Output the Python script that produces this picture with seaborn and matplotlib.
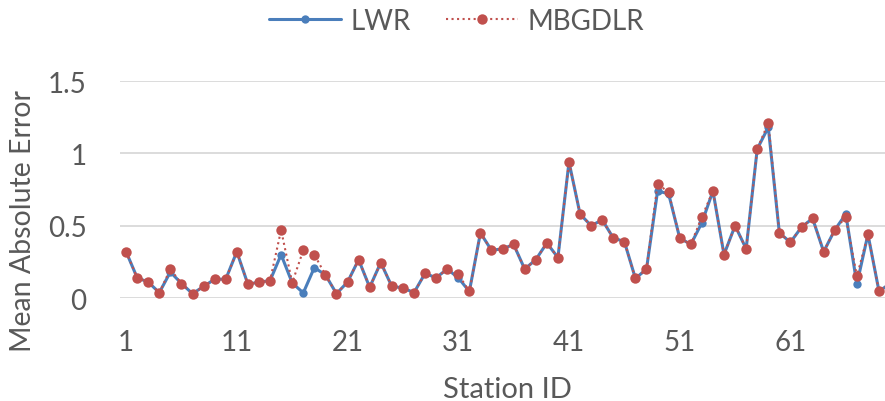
import numpy as np
import pandas as pd
import matplotlib
matplotlib.use("Agg")
import matplotlib.pyplot as plt
import seaborn as sns

# values
station = list(range(1, 71))
lwr = [0.32, 0.14, 0.11, 0.037, 0.18, 0.10, 0.03, 0.08, 0.13, 0.13,
       0.32, 0.095, 0.11, 0.12, 0.30, 0.105, 0.035, 0.21, 0.16, 0.03,
       0.11, 0.265, 0.074, 0.245, 0.08, 0.07, 0.037, 0.17, 0.14, 0.20,
       0.14, 0.045, 0.45, 0.33, 0.34, 0.37, 0.20, 0.265, 0.38, 0.28,
       0.94, 0.58, 0.50, 0.54, 0.415, 0.39, 0.135, 0.20, 0.74, 0.72,
       0.415, 0.37, 0.52, 0.74, 0.30, 0.50, 0.34, 1.03, 1.18, 0.45,
       0.385, 0.49, 0.55, 0.32, 0.47, 0.58, 0.095, 0.44, 0.046, 0.10]
mbgdlr = [0.32, 0.14, 0.11, 0.037, 0.20, 0.10, 0.03, 0.08, 0.13, 0.13,
          0.32, 0.095, 0.11, 0.12, 0.47, 0.105, 0.33, 0.30, 0.16, 0.03,
          0.11, 0.265, 0.074, 0.245, 0.08, 0.07, 0.037, 0.17, 0.14, 0.20,
          0.165, 0.045, 0.45, 0.33, 0.34, 0.37, 0.20, 0.265, 0.38, 0.28,
          0.94, 0.58, 0.50, 0.54, 0.415, 0.39, 0.135, 0.20, 0.79, 0.73,
          0.415, 0.37, 0.56, 0.74, 0.30, 0.50, 0.34, 1.03, 1.21, 0.45,
          0.385, 0.49, 0.55, 0.32, 0.47, 0.56, 0.15, 0.44, 0.046, 0.10]
xticks = [1, 11, 21, 31, 41, 51, 61]
yticks = [0, 0.5, 1, 1.5]
ytick_labels = ["0", "0.5", "1", "1.5"]

df = pd.DataFrame({"Station ID": station, "LWR": lwr, "MBGDLR": mbgdlr})

sns.set_style("white")
plt.rcParams['font.family'] = ['Lato', 'DejaVu Sans']
txt = "#595959"

fig = plt.figure(figsize=(8.85, 4.02), dpi=100)
ax = fig.add_axes([0.1356, 0.2562, 0.8644, 0.5398])

sns.lineplot(data=df, x="Station ID", y="LWR", ax=ax, color="#4A7EBB",
             linewidth=2.2, marker="o", markersize=6, markeredgewidth=0,
             label="LWR", clip_on=False)
sns.lineplot(data=df, x="Station ID", y="MBGDLR", ax=ax, color="#C0504D",
             linewidth=1.5, linestyle=":", marker="o", markersize=7.5,
             markeredgewidth=0, label="MBGDLR", clip_on=False)

ax.set_xlim(0.45, 69.54)
ax.set_ylim(0, 1.5)
ax.set_xticks(xticks)
ax.set_yticks(yticks)
ax.set_yticklabels(ytick_labels)
ax.tick_params(axis="both", length=0, labelsize=20, colors=txt)
ax.tick_params(axis="x", pad=22)
ax.tick_params(axis="y", pad=24)
ax.grid(axis="y", color="#D9D9D9", linewidth=1.3)
ax.set_axisbelow(True)
for s in ax.spines.values():
    s.set_visible(False)

ax.set_xlabel("Station ID", fontsize=21, color=txt)
ax.set_ylabel("Mean Absolute Error", fontsize=20.5, color=txt)
ax.xaxis.set_label_coords(0.506, -0.42)
ax.xaxis.label.set_va("center")
ax.yaxis.set_label_coords(-0.127, 0.36)
ax.yaxis.label.set_va("center")

handles, labels = ax.get_legend_handles_labels()
ax.get_legend().remove()
fig.legend(handles, labels, loc="upper center", bbox_to_anchor=(0.516, 1.04),
           ncol=2, frameon=False, fontsize=20, labelcolor=txt,
           handlelength=2.6, columnspacing=1.25, handletextpad=0.35)

fig.savefig("out.png", dpi=100)
